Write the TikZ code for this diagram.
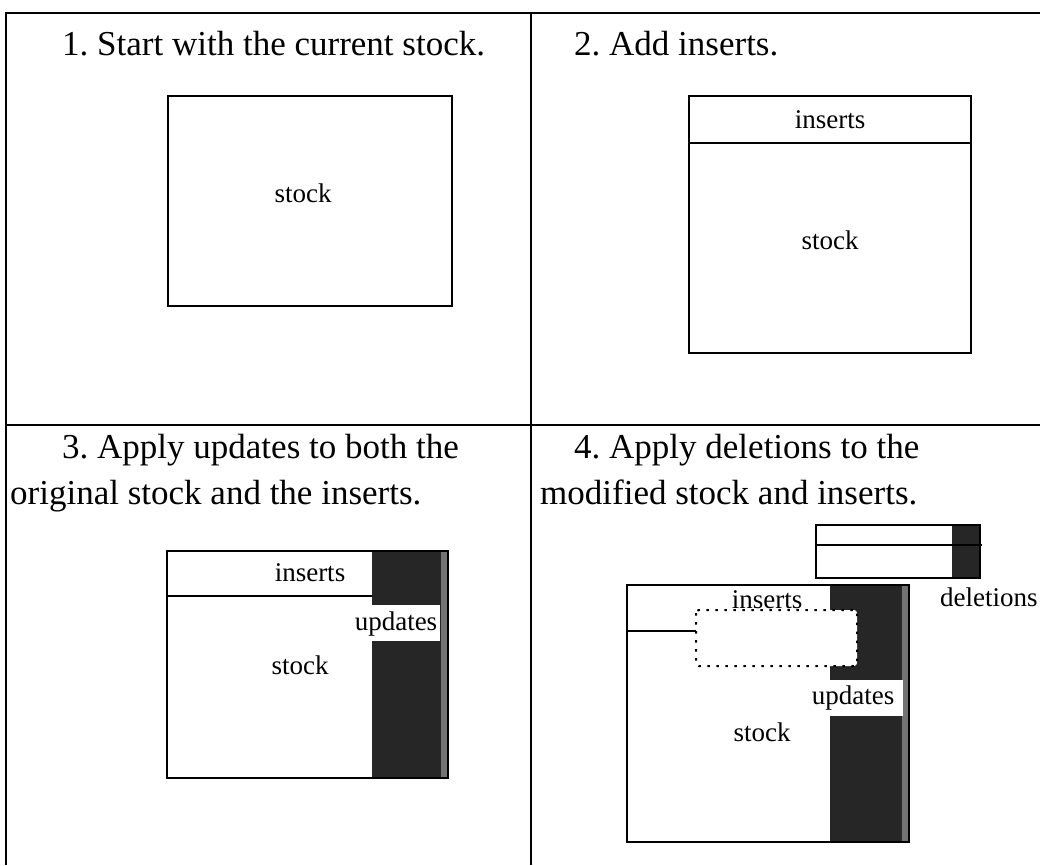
\documentclass[tikz,border=0pt]{standalone}
\usepackage{fontspec}
\setmainfont{Liberation Serif}
\frenchspacing
\begin{document}
\begin{tikzpicture}[x=1pt,y=-1pt,
  rule/.style={line width=1.8pt},
  frame/.style={draw=black,line width=1.8pt},
  shade/.style={fill=black!85},
  grain/.style={fill=black!55},
  head/.style={anchor=base west,inner sep=0pt,font=\fontsize{35}{40}\selectfont},
  lbl/.style={inner sep=0pt,font=\fontsize{27}{30}\selectfont},
  dottedbox/.style={draw=black,line width=2pt,dash pattern=on 2.5pt off 6.5pt,fill=white},
]
\useasboundingbox (0,0) rectangle (1044,865);

% ---- table rules (open on the right and at the bottom) ----
\draw[rule] (1040,13) -- (6,13) -- (6,865);
\draw[rule] (531,13) -- (531,865);
\draw[rule] (6,425) -- (1040,425);

% ---- headings ----
\node[head] (h1) at (62,55) {1. Start with the current stock.};
\node[head] (h2) at (574,55) {2. Add inserts.};
\node[head] (h3a) at (62,458) {3. Apply updates to both the};
\node[head] (h3b) at (10,504) {original stock and the inserts.};
\node[head] (h4a) at (574,458) {4. Apply deletions to the};
\node[head] (h4b) at (540,504) {modified stock and inserts.};

% ---- panel 1: the current stock ----
\draw[frame] (168,96) rectangle (452,306);
\node[lbl] (s1) at (303,193) {stock};

% ---- panel 2: stock with inserts on top ----
\draw[frame] (689,96) rectangle (971,353);
\draw[rule] (689,143) -- (971,143);
\node[lbl] (i2) at (830,120) {inserts};
\node[lbl] (s2) at (830,240) {stock};

% ---- panel 3: updates applied to stock and inserts ----
\fill[shade] (372,551) rectangle (448,778);
\fill[grain] (441,551) rectangle (448,778);
\fill[white] (353,605) rectangle (440,641);
\draw[rule] (167,596) -- (372,596);
\draw[frame] (167,551) rectangle (448,778);
\node[lbl] (i3) at (310,573) {inserts};
\node[lbl] (u3) at (396,624) {updates};
\node[lbl] (s3) at (300,665) {stock};

% ---- panel 4: deletions applied ----
% deletions block
\fill[shade] (952,525) rectangle (980,578);
\draw[frame] (816,525) rectangle (980,578);
\draw[rule] (816,545) -- (982,545);
\node[lbl,anchor=west] (d4) at (940,597) {deletions};

% modified stock and inserts
\fill[shade] (830,585) rectangle (909,842);
\fill[grain] (902,585) rectangle (909,842);
\fill[white] (803,680) rectangle (903,716);
\draw[frame] (627,585) rectangle (909,842);
\draw[rule] (627,631) -- (696,631);
\draw[dottedbox,rounded corners=3pt] (696,610) rectangle (857,666);
\node[lbl] (i4) at (767,600) {inserts};
\node[lbl] (u4) at (853,698) {updates};
\node[lbl] (s4) at (762,732) {stock};
\end{tikzpicture}
\end{document}
